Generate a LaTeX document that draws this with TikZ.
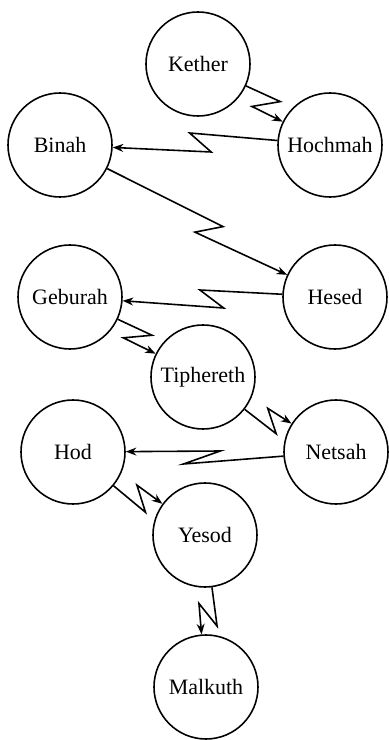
\documentclass[tikz,border=0pt]{standalone}
\usepackage{fontspec}
\setmainfont{Liberation Serif}
\usepackage{tikz}
\usetikzlibrary{arrows.meta, calc}

\begin{document}
\begin{tikzpicture}[
        sefira/.style={circle, draw, line width=0.9pt, minimum size=2.08cm, inner sep=0pt,
            font=\fontsize{12.5}{14}\selectfont},
        bolt/.style n args={4}{-{Stealth[length=6pt,width=4.5pt]}, line width=0.9pt,
            to path={-- ($(\tikztostart)!#1!(\tikztotarget)!#2!90:(\tikztotarget)$)
                     -- ($(\tikztostart)!#3!(\tikztotarget)!#4!90:(\tikztotarget)$)
                     -- (\tikztotarget)}}
    ]
        \useasboundingbox (0,0) rectangle (7.76,14.8);

        \node[sefira] (kether)    at (3.96,13.52) {Kether};
        \node[sefira] (hochmah)   at (6.60,11.90) {Hochmah};
        \node[sefira] (binah)     at (1.20,11.90) {Binah};
        \node[sefira] (hesed)     at (6.70,8.86)  {Hesed};
        \node[sefira] (geburah)   at (1.40,8.86)  {Geburah};
        \node[sefira] (tiphereth) at (4.06,7.26)  {Tiphereth};
        \node[sefira] (netsah)    at (6.72,5.76)  {Netsah};
        \node[sefira] (hod)       at (1.46,5.76)  {Hod};
        \node[sefira] (yesod)     at (4.10,4.10)  {Yesod};
        \node[sefira] (malkuth)   at (4.12,1.06)  {Malkuth};

        \draw[bolt={.58}{0.22cm}{.44}{-0.16cm}] (kether) to (hochmah);
        \draw[bolt={.52}{-0.24cm}{.44}{0.14cm}] (hochmah) to (binah);
        \draw[bolt={.58}{0.15cm}{.51}{-0.22cm}] (binah) to (hesed);
        \draw[bolt={.51}{-0.14cm}{.42}{0.22cm}] (hesed) to (geburah);
        \draw[bolt={.58}{0.19cm}{.43}{-0.15cm}] (geburah) to (tiphereth);
        \draw[bolt={.60}{-0.27cm}{.47}{0.09cm}] (tiphereth) to (netsah);
        \draw[bolt={.58}{0.24cm}{.44}{-0.02cm}] (netsah) to (hod);
        \draw[bolt={.60}{-0.25cm}{.46}{0.12cm}] (hod) to (yesod);
        \draw[bolt={.60}{0.23cm}{.45}{-0.13cm}] (yesod) to (malkuth);
    \end{tikzpicture}
\end{document}
